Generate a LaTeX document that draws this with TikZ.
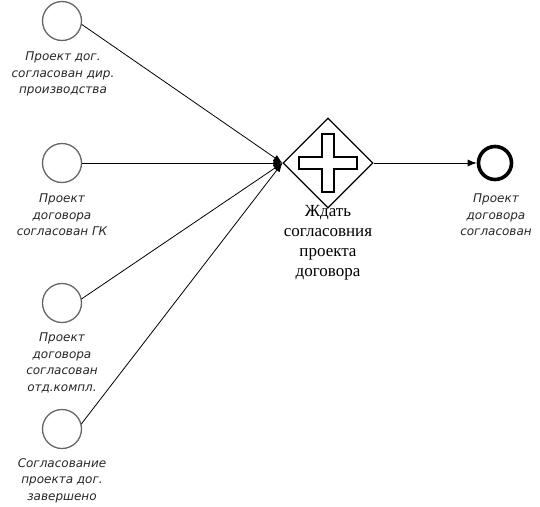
\documentclass[tikz,border=0pt]{standalone}
\usepackage{fontspec}
\setmainfont{DejaVu Sans}
\newfontfamily\labelserif{Liberation Serif}
\usetikzlibrary{arrows.meta,shapes.geometric}
\begin{document}
\begin{tikzpicture}[x=1pt,y=-1pt,
  startev/.style={circle,draw=black!60,line width=1.3pt,minimum size=39pt,inner sep=0pt},
  endev/.style={circle,draw=black,line width=3.6pt,minimum size=33pt,inner sep=0pt},
  gw/.style={diamond,draw=black,line width=1.3pt,minimum width=90pt,minimum height=90pt,inner sep=0pt},
  evlabel/.style={align=center,font=\fontsize{12}{16.5}\selectfont\itshape,text=black!85,inner sep=0pt,anchor=north},
  gwlabel/.style={align=center,font=\labelserif\fontsize{17}{20}\selectfont,inner sep=0pt,anchor=north},
  flow/.style={line width=0.8pt,-{Latex[length=9pt,width=7pt]}}]
\useasboundingbox (0,0) rectangle (540,506);

% start events
\node[startev] (s1) at (62,21) {};
\node[startev] (s2) at (62,163) {};
\node[startev] (s3) at (62,303) {};
\node[startev] (s4) at (62,429) {};
\node[evlabel] (l1) at (63,52) {Проект дог.\\согласован дир.\\производства};
\node[evlabel] (l2) at (62,194) {Проект\\договора\\согласован ГК};
\node[evlabel] (l3) at (62,333) {Проект\\договора\\согласован\\отд.компл.};
\node[evlabel] (l4) at (62,458) {Согласование\\проекта дог.\\завершено};

% parallel gateway with its plus marker
\node[gw] (g) at (328,163) {};
\draw[line width=2pt,line join=miter,fill=white] (g.center) ++(-6,-29) -- ++(12,0) -- ++(0,23) -- ++(23,0) -- ++(0,12)
  -- ++(-23,0) -- ++(0,23) -- ++(-12,0) -- ++(0,-23) -- ++(-23,0) -- ++(0,-12) -- ++(23,0) -- cycle;
\node[gwlabel] (gl) at (328,205) {Ждать\\согласовния\\проекта\\договора};

% end event
\node[endev] (e) at (495,163) {};
\node[evlabel] (le) at (496,194) {Проект\\договора\\согласован};

% sequence flows, leaving each start event from its right side
\draw[flow] (s1.-10) -- (g.west);
\draw[flow] (s2.east) -- (g.west);
\draw[flow] (s3.12) -- (g.west);
\draw[flow] (s4.15) -- (g.west);
\draw[flow] (g.east) -- (e);
\end{tikzpicture}
\end{document}
